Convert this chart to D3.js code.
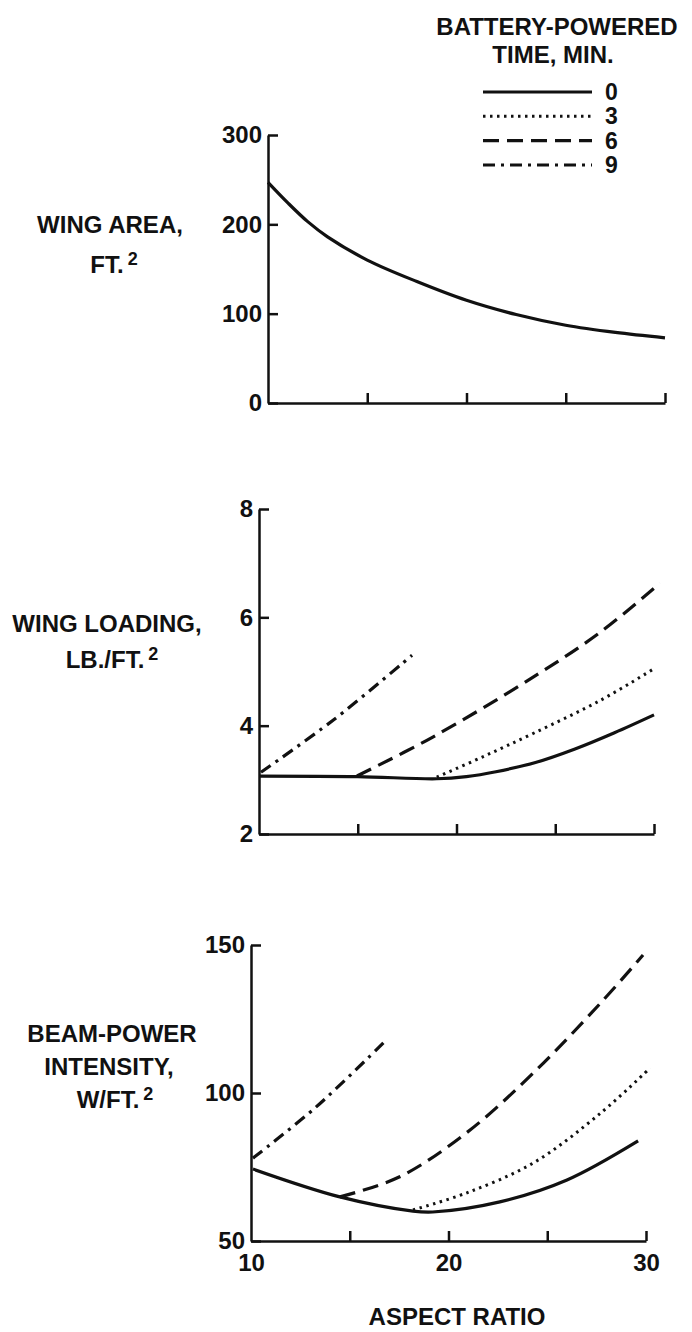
<!DOCTYPE html>
<html>
<head>
<meta charset="utf-8">
<script src="https://cdn.jsdelivr.net/npm/d3@7"></script>
<style>
  body { margin: 0; background: #fff; }
  svg text { font-family: "Liberation Sans", Arial, Helvetica, sans-serif; font-weight: bold; fill: #111; }
</style>
</head>
<body>
<div id="chart"></div>
<script>
// values
const aspectTicks = [10, 15, 20, 25, 30];
const aspectLabels = [10, 20, 30];
const areaTicks = [0, 100, 200, 300];
const loadingTicks = [2, 4, 6, 8];
const beamTicks = [50, 100, 150];
const times = [0, 3, 6, 9];

// wing area, ft^2 (same for every time)
const area0 = [[10,247],[11,224],[12,203],[13,186],[15,160],[17.5,136],[20,115],[22.5,99],[25,87],[27.5,79],[30,73]];

// wing loading, lb/ft^2
const loading0 = [[10,3.07],[15,3.06],[19,3.02],[20.5,3.06],[22,3.15],[24,3.32],[26,3.57],[28,3.87],[30,4.2]];
const loading3 = [[19,3.05],[21.3,3.42],[23.9,3.86],[27.3,4.47],[29.9,5.03]];
const loading6 = [[14.96,3.07],[18.8,3.79],[23.9,4.9],[27.3,5.73],[30.3,6.63]];
const loading9 = [[10.1,3.14],[13.75,4.1],[17.75,5.3]];

// beam-power intensity, W/ft^2
const beam0 = [[10.1,74.3],[14.5,64.9],[18.2,60.1],[19.2,59.8],[22.6,63.2],[26,70.6],[29.6,83.8]];
const beam3 = [[18.2,60.5],[20.9,66.2],[24.3,76.4],[27.7,93.2],[30.2,108.4]];
const beam6 = [[14.5,64.9],[17.5,71.6],[20.9,86.5],[24.3,106.8],[27.7,130.4],[29.85,146.6]];
const beam9 = [[10.1,78],[13.3,95.3],[16.9,118.2]];

const dashes = {0: null, 3: "2.5,4.5", 6: "16,8", 9: "12,6,3,6"};

const svg = d3.select("#chart").append("svg").attr("width", 692).attr("height", 1332);

const panels = [
  {left: 268, right: 665, top: 135, bottom: 403, domain: [0, 300], ticks: areaTicks,
   series: [[0, area0]], labels: false},
  {left: 259, right: 654, top: 509, bottom: 834, domain: [2, 8], ticks: loadingTicks,
   series: [[0, loading0], [3, loading3], [6, loading6], [9, loading9]], labels: false},
  {left: 251, right: 646, top: 945, bottom: 1241, domain: [50, 150], ticks: beamTicks,
   series: [[0, beam0], [3, beam3], [6, beam6], [9, beam9]], labels: true}
];

panels.forEach(function(p) {
  const x = d3.scaleLinear().domain([10, 30]).range([p.left, p.right]);
  const y = d3.scaleLinear().domain(p.domain).range([p.bottom, p.top]);

  const yAxis = d3.axisLeft(y).tickValues(p.ticks).tickFormat(d3.format("d"))
    .tickSize(-10).tickSizeOuter(0).tickPadding(6);
  const gy = svg.append("g").attr("transform", `translate(${p.left},0)`).call(yAxis);

  const xAxis = d3.axisBottom(x).tickValues(aspectTicks).tickSize(-10).tickSizeOuter(0).tickPadding(13)
    .tickFormat(d => p.labels && aspectLabels.includes(d) ? d : "");
  const gx = svg.append("g").attr("transform", `translate(0,${p.bottom})`).call(xAxis);

  [gx, gy].forEach(function(g) {
    g.selectAll("path, line").attr("stroke", "#111").attr("stroke-width", 2.5);
    g.selectAll("text").style("font-size", "24px").attr("fill", "#111");
  });
  gx.selectAll(".tick").filter(d => d === 10).select("line").remove();

  const line = d3.line().x(d => x(d[0])).y(d => y(d[1])).curve(d3.curveCatmullRom.alpha(0.5));
  p.series.forEach(function(s) {
    svg.append("path").datum(s[1])
      .attr("d", line)
      .attr("fill", "none")
      .attr("stroke", "#111")
      .attr("stroke-width", s[0] === 3 ? 3 : 3.2)
      .attr("stroke-dasharray", dashes[s[0]]);
  });
});

// y-axis titles
function label(lines) {
  lines.forEach(function(l) {
    const t = svg.append("text").attr("x", l[1]).attr("y", l[2])
      .attr("text-anchor", "middle").style("font-size", "24px").text(l[0]);
    if (l[3]) t.append("tspan").attr("dx", 4).attr("dy", -8).style("font-size", "18px").text(l[3]);
  });
}
label([["WING AREA,", 110, 233], ["FT.", 114, 273, "2"]]);
label([["WING LOADING,", 107, 632], ["LB./FT.", 112, 668, "2"]]);
label([["BEAM-POWER", 112, 1042], ["INTENSITY,", 109, 1075], ["W/FT.", 115, 1108, "2"]]);

svg.append("text").attr("x", 457).attr("y", 1325).attr("text-anchor", "middle")
  .style("font-size", "24px").text("ASPECT RATIO");

// legend
svg.append("text").attr("x", 557).attr("y", 35).attr("text-anchor", "middle")
  .style("font-size", "24px").text("BATTERY-POWERED");
svg.append("text").attr("x", 553).attr("y", 63).attr("text-anchor", "middle")
  .style("font-size", "24px").text("TIME, MIN.");

const ly = d3.scalePoint().domain(times).range([92, 165]);
const lg = svg.append("g");
times.forEach(function(t) {
  lg.append("line").attr("x1", 483).attr("x2", 592).attr("y1", ly(t)).attr("y2", ly(t))
    .attr("stroke", "#111").attr("stroke-width", t === 3 ? 3 : 3.2)
    .attr("stroke-dasharray", dashes[t]);
  lg.append("text").attr("x", 605).attr("y", ly(t) + 8).style("font-size", "23px").text(t);
});
</script>
</body>
</html>
